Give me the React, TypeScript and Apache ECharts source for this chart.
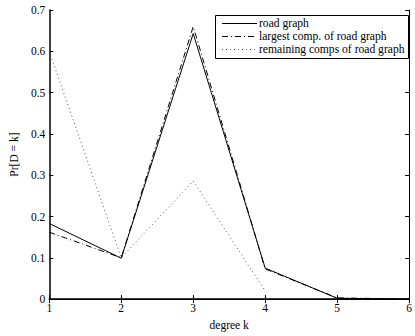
import React, { useEffect, useRef } from "react";
import * as echarts from "echarts";

const degrees = [1, 2, 3, 4, 5, 6];
const roadGraph = [0.183, 0.099, 0.643, 0.075, 0.002, 0.0];
const largestComp = [0.162, 0.1, 0.66, 0.073, 0.003, 0.0];
const remainingComps = [0.6, 0.1, 0.286, 0.02, null, null];
const seriesNames = ["road graph", "largest comp. of road graph", "remaining comps of road graph"];
const lineTypes: any[] = ["solid", [6, 3, 1, 3], [1, 3]];
const lineColors = ["#000", "#000", "#555"];

const FONT = "Liberation Serif";

export default function App() {
  const ref = useRef<HTMLDivElement>(null);
  useEffect(() => {
    if (!ref.current) return;
    const chart = echarts.init(ref.current, null, { renderer: "svg" });
    const mk = (vals: (number | null)[]) => degrees.map((d, i) => [d, vals[i]]);
    const axisCommon = {
      type: "value" as const,
      axisLine: { show: true, lineStyle: { color: "#000", width: 1 } },
      axisTick: { show: true, inside: true, length: 4, lineStyle: { color: "#000" } },
      splitLine: { show: false },
    };
    const legendElems: any[] = [
      {
        type: "rect",
        shape: { x: 215.5, y: 15.5, width: 193, height: 43 },
        style: { fill: "#fff", stroke: "#000", lineWidth: 1 },
        z: 100,
      },
    ];
    seriesNames.forEach((n, i) => {
      const y = 23 + i * 13;
      legendElems.push({
        type: "line",
        shape: { x1: 222, y1: y + 0.5, x2: 257, y2: y + 0.5 },
        style: { stroke: lineColors[i], lineWidth: 1, lineDash: lineTypes[i] === "solid" ? null : lineTypes[i] },
        z: 101,
      });
      legendElems.push({
        type: "text",
        x: 259,
        y: y + 0.5,
        style: { text: n, fontFamily: FONT, fontSize: 11.6, fill: "#000", verticalAlign: "middle", align: "left" },
        z: 101,
      });
    });
    chart.setOption({
      animation: false,
      backgroundColor: "#fff",
      grid: { left: 43, right: 1, top: 10, bottom: 33, containLabel: false },
      graphic: legendElems,
      xAxis: [
        {
          ...axisCommon,
          axisLine: { show: true, lineStyle: { color: "#000", width: 1.5 } },
          min: 1,
          max: 6,
          interval: 1,
          position: "bottom",
          name: "degree k",
          nameLocation: "middle",
          nameGap: 15,
          nameTextStyle: { fontFamily: FONT, fontSize: 11.5, color: "#000" },
          axisLabel: { fontFamily: FONT, fontSize: 11.5, color: "#000", margin: 3 },
        },
        {
          ...axisCommon,
          min: 1,
          max: 6,
          interval: 1,
          position: "top",
          axisLabel: { show: false },
        },
      ],
      yAxis: [
        {
          ...axisCommon,
          axisLine: { show: true, lineStyle: { color: "#000", width: 1.5 } },
          min: 0,
          max: 0.7,
          interval: 0.1,
          position: "left",
          name: "Pr[D = k]",
          nameLocation: "middle",
          nameGap: 23,
          nameRotate: 90,
          nameTextStyle: { fontFamily: FONT, fontSize: 11.5, color: "#000" },
          axisLabel: { fontFamily: FONT, fontSize: 11.5, color: "#000", margin: 4 },
        },
        {
          ...axisCommon,
          min: 0,
          max: 0.7,
          interval: 0.1,
          position: "right",
          axisLabel: { show: false },
        },
      ],
      series: seriesNames.map((n, i) => ({
        name: n,
        type: "line",
        data: mk([roadGraph, largestComp, remainingComps][i]),
        showSymbol: false,
        symbol: "none",
        lineStyle: { color: lineColors[i], width: 1, type: lineTypes[i] },
        itemStyle: { color: lineColors[i] },
      })),
    });
    return () => chart.dispose();
  }, []);
  return (
    <div
      ref={ref}
      style={{ position: "fixed", left: 0, top: 0, width: 415, height: 336, background: "#fff" }}
    />
  );
}
